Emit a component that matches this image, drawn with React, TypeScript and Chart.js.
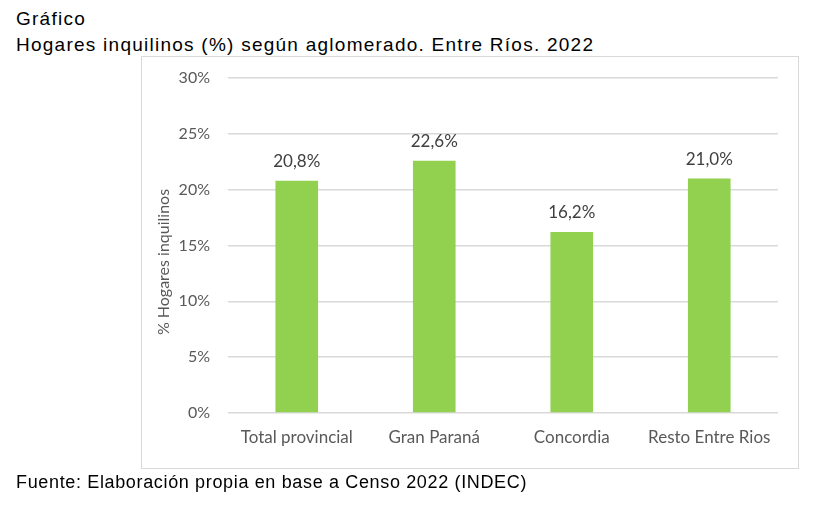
import React, { useEffect, useRef } from "react";
import { Chart, registerables } from "chart.js";

Chart.register(...registerables);

const categories = ["Total provincial", "Gran Paraná", "Concordia", "Resto Entre Rios"];
const values = [20.8, 22.6, 16.2, 21.0];
const yTicks = [0, 5, 10, 15, 20, 25, 30];
const titleLine1 = "Gráfico";
const titleLine2 = "Hogares inquilinos (%) según aglomerado. Entre Ríos. 2022";
const footer = "Fuente: Elaboración propia en base a Censo 2022 (INDEC)";
const yTitle = "% Hogares inquilinos";

const tickFont = "Lato";

export default function App() {
  const ref = useRef<HTMLCanvasElement | null>(null);

  useEffect(() => {
    document.body.style.margin = "0";
    const canvas = ref.current!;
    const labelPlugin = {
      id: "labels",
      afterDatasetsDraw(chart: any) {
        const ctx = chart.ctx;
        const meta = chart.getDatasetMeta(0);
        ctx.save();
        ctx.fillStyle = "#404040";
        ctx.font = `17px ${tickFont}`;
        ctx.textAlign = "center";
        ctx.textBaseline = "alphabetic";
        meta.data.forEach((bar: any, i: number) => {
          const txt = values[i].toFixed(1).replace(".", ",") + "%";
          ctx.fillText(txt, bar.x, bar.y - 14);
        });
        // y axis title
        ctx.translate(164, 262);
        ctx.rotate(-Math.PI / 2);
        ctx.fillStyle = "#595959";
        ctx.font = `16px ${tickFont}`;
        ctx.textBaseline = "middle";
        ctx.fillText(yTitle, 0, 0);
        ctx.restore();
      },
    };
    const chart = new Chart(canvas, {
      type: "bar",
      data: {
        labels: categories,
        datasets: [
          {
            data: values,
            backgroundColor: "#92D050",
            barPercentage: 0.31,
            categoryPercentage: 1,
          },
        ],
      },
      options: {
        animation: false,
        responsive: false,
        maintainAspectRatio: false,
        layout: { padding: { left: 150, right: 52, top: 78, bottom: 0 } },
        plugins: { legend: { display: false }, tooltip: { enabled: false }, title: { display: false } },
        scales: {
          x: {
            grid: { display: false, drawTicks: false },
            border: { display: false },
            ticks: { color: "#595959", font: { family: tickFont, size: 17 }, padding: 14, maxRotation: 0 },
            afterFit: (s: any) => {
              s.height = 102;
            },
          },
          y: {
            min: 0,
            max: 30,
            afterBuildTicks: (s: any) => {
              s.ticks = yTicks.map((v) => ({ value: v }));
            },
            grid: { color: "#d9d9d9", lineWidth: 1.5, drawTicks: false },
            border: { display: false },
            ticks: {
              color: "#595959",
              font: { family: tickFont, size: 16 },
              padding: 18,
              callback: (v: any) => v + "%",
            },
            afterFit: (s: any) => {
              s.width = 78;
            },
          },
        },
      },
      plugins: [labelPlugin],
    });
    return () => chart.destroy();
  }, []);

  const textStyle: React.CSSProperties = {
    position: "absolute",
    left: 16,
    fontFamily: "'Liberation Sans', Arial, sans-serif",
    color: "#000",
    whiteSpace: "nowrap",
    lineHeight: "20px",
  };
  const titleStyle: React.CSSProperties = { ...textStyle, fontSize: 19, letterSpacing: 1.25 };

  return (
    <div style={{ position: "relative", width: 830, height: 515, background: "#fff", overflow: "hidden" }}>
      <div style={{ ...titleStyle, top: 9 }}>{titleLine1}</div>
      <div style={{ ...titleStyle, top: 35 }}>{titleLine2}</div>
      <div
        style={{
          position: "absolute",
          left: 141,
          top: 56,
          width: 658,
          height: 413,
          border: "1.5px solid #d9d9d9",
          boxSizing: "border-box",
        }}
      />
      <canvas ref={ref} width={830} height={515} style={{ position: "absolute", left: 0, top: 0 }} />
      <div style={{ ...textStyle, top: 472, fontSize: 18, letterSpacing: 0.65 }}>{footer}</div>
    </div>
  );
}
